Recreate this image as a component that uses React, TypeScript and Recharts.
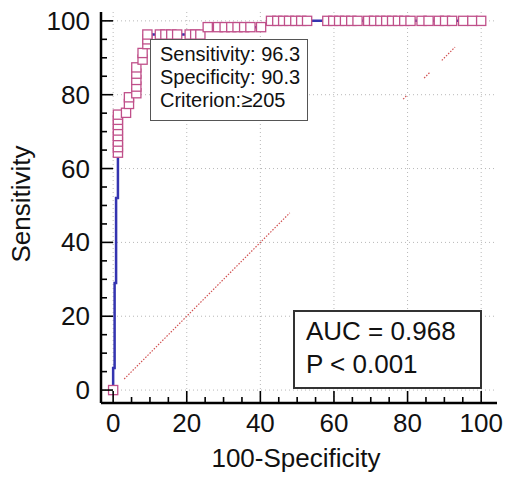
import React from 'react';
import {
  CartesianGrid,
  ReferenceLine,
  Scatter,
  ScatterChart,
  XAxis,
  YAxis,
} from 'recharts';

const FONT = '"Liberation Sans", Arial, sans-serif';
const MARKER = '#c0508a';
const CURVE = '#3434b0';
const DIAG = '#d05050';

// axis ticks (every 5, labelled every 20)
const axisTicks = [0, 5, 10, 15, 20, 25, 30, 35, 40, 45, 50, 55, 60, 65, 70, 75, 80, 85, 90, 95, 100];
const gridValues = [0, 20, 40, 60, 80, 100];

// ROC curve (blue line), 100-specificity vs sensitivity
const lineFpr = [0, 0, 0.4, 0.4, 0.8, 0.8, 1.3, 1.3, 3.5, 4.3, 4.3, 6.3, 6.3, 8.0, 8.0, 9.3, 9.3, 23.7, 25.7, 40.2, 42.9, 100];
const lineTpr = [0, 6, 6, 29, 29, 52, 52, 74.6, 75.1, 77.5, 79.3, 80.4, 87.4, 89.5, 91.3, 93.7, 96.3, 96.3, 98.3, 98.3, 100, 100];

// square markers on the curve
const markerFpr = [
  0,
  1.3, 1.3, 1.3, 1.3, 1.3, 1.3, 1.3, 1.3,
  3.5, 4.3, 4.3,
  6.3, 6.3, 6.3, 6.3, 6.3,
  8.0, 8.0,
  9.3, 9.3, 9.3,
  12.7, 14.2, 15.8, 17.4, 20.8, 22.3, 23.7,
  25.7, 28.5, 30.3, 32.1, 33.8, 35.6, 37.3, 40.2,
  42.9, 44.6, 46.2, 47.8, 49.5, 51.1, 52.7,
  58.2, 59.8, 61.4, 63.0, 64.7, 66.4,
  69.3, 70.9, 72.6, 74.2, 75.8, 77.4, 79.1, 80.8,
  83.8, 85.7, 88.5, 90.2, 92.1, 95.1, 97.6, 100,
];
const markerTpr = [
  0,
  64.3, 65.8, 67.3, 68.8, 70.3, 71.8, 73.2, 74.6,
  75.1, 77.5, 79.3,
  80.4, 82.2, 84.0, 85.7, 87.4,
  89.5, 91.3,
  93.7, 95.0, 96.3,
  96.3, 96.3, 96.3, 96.3, 96.3, 96.3, 96.3,
  98.3, 98.3, 98.3, 98.3, 98.3, 98.3, 98.3, 98.3,
  100, 100, 100, 100, 100, 100, 100,
  100, 100, 100, 100, 100, 100,
  100, 100, 100, 100, 100, 100, 100, 100,
  100, 100, 100, 100, 100, 100, 100, 100,
];

// reference diagonal, drawn broken as in the source
const diagFrom = [3, 78.8, 84.5, 89.3];
const diagTo = [48, 79.9, 86.1, 92.9];

const rocLine = lineFpr.map((x, i) => ({ x, y: lineTpr[i] }));
const markers = markerFpr.map((x, i) => ({ x, y: markerTpr[i] }));

function XTick({ x, y, payload }: any) {
  const v = payload.value;
  const major = v % 20 === 0;
  return (
    <g>
      <line x1={x} x2={x} y1={y} y2={y - (major ? 12 : 6)} stroke="#000" strokeWidth={1.6} />
      {major && (
        <text x={x} y={y + 29} textAnchor="middle" fontSize={26} fill="#111" fontFamily={FONT}>
          {v}
        </text>
      )}
    </g>
  );
}

function YTick({ x, y, payload }: any) {
  const v = payload.value;
  const major = v % 20 === 0;
  return (
    <g>
      <line x1={x} x2={x + (major ? 12 : 6)} y1={y} y2={y} stroke="#000" strokeWidth={1.6} />
      {major && (
        <text x={x - 11} y={y + 9} textAnchor="end" fontSize={26} fill="#111" fontFamily={FONT}>
          {v}
        </text>
      )}
    </g>
  );
}

function Square({ cx, cy }: any) {
  return <rect x={cx - 4.6} y={cy - 4.6} width={9.2} height={9.2} fill="#fff" stroke={MARKER} strokeWidth={1.3} />;
}

export default function App() {
  return (
    <div style={{ position: 'absolute', left: 0, top: 0, width: 505, height: 480, background: '#fff', fontFamily: FONT }}>
      <ScatterChart width={505} height={480} margin={{ top: 12, right: 8, bottom: 0, left: 0 }}>
        <CartesianGrid
          stroke="#b8b8b8"
          strokeDasharray="1 3"
          horizontalValues={gridValues}
          verticalValues={gridValues}
        />
        <XAxis
          type="number"
          dataKey="x"
          domain={[-3.3, 104.3]}
          allowDataOverflow
          ticks={axisTicks}
          interval={0}
          height={77}
          tickSize={0}
          tickMargin={0}
          tick={<XTick />}
          axisLine={{ stroke: '#000', strokeWidth: 2.5 }}
          label={{
            content: () => (
              <text x={296} y={467} textAnchor="middle" fontSize={26} fill="#111" fontFamily={FONT}>
                100-Specificity
              </text>
            ),
          }}
        />
        <YAxis
          type="number"
          dataKey="y"
          domain={[-3.5, 102.4]}
          allowDataOverflow
          ticks={axisTicks}
          interval={0}
          width={101}
          tickSize={0}
          tickMargin={0}
          tick={<YTick />}
          axisLine={{ stroke: '#000', strokeWidth: 2.5 }}
          label={{
            content: () => (
              <text
                x={0}
                y={0}
                transform="translate(30 204) rotate(-90)"
                textAnchor="middle"
                fontSize={26}
                fill="#111"
                fontFamily={FONT}
              >
                Sensitivity
              </text>
            ),
          }}
        />
        {diagFrom.map((a, i) => (
          <ReferenceLine
            key={i}
            segment={[{ x: a, y: a }, { x: diagTo[i], y: diagTo[i] }]}
            stroke={DIAG}
            strokeWidth={1.2}
            strokeDasharray="1.5 1.5"
          />
        ))}
        <Scatter
          data={rocLine}
          line={{ stroke: CURVE, strokeWidth: 2.5 }}
          shape={() => <g />}
          isAnimationActive={false}
        />
        <Scatter data={markers} shape={<Square />} isAnimationActive={false} />
      </ScatterChart>

      <div
        style={{
          position: 'absolute',
          left: 150,
          top: 39,
          width: 158,
          height: 82,
          boxSizing: 'border-box',
          border: '1.5px solid #555',
          background: '#fff',
          padding: '3px 0 0 9px',
          fontSize: 20,
          lineHeight: '23px',
          color: '#111',
          whiteSpace: 'nowrap',
        }}
      >
        <div>Sensitivity: 96.3</div>
        <div>Specificity: 90.3</div>
        <div>Criterion:≥205</div>
      </div>

      <div
        style={{
          position: 'absolute',
          left: 293,
          top: 310,
          width: 189,
          height: 79,
          boxSizing: 'border-box',
          border: '2px solid #333',
          background: '#fff',
          padding: '3px 0 0 11px',
          fontSize: 26,
          lineHeight: '33px',
          color: '#111',
          whiteSpace: 'nowrap',
        }}
      >
        <div>AUC = 0.968</div>
        <div>P &lt; 0.001</div>
      </div>
    </div>
  );
}
